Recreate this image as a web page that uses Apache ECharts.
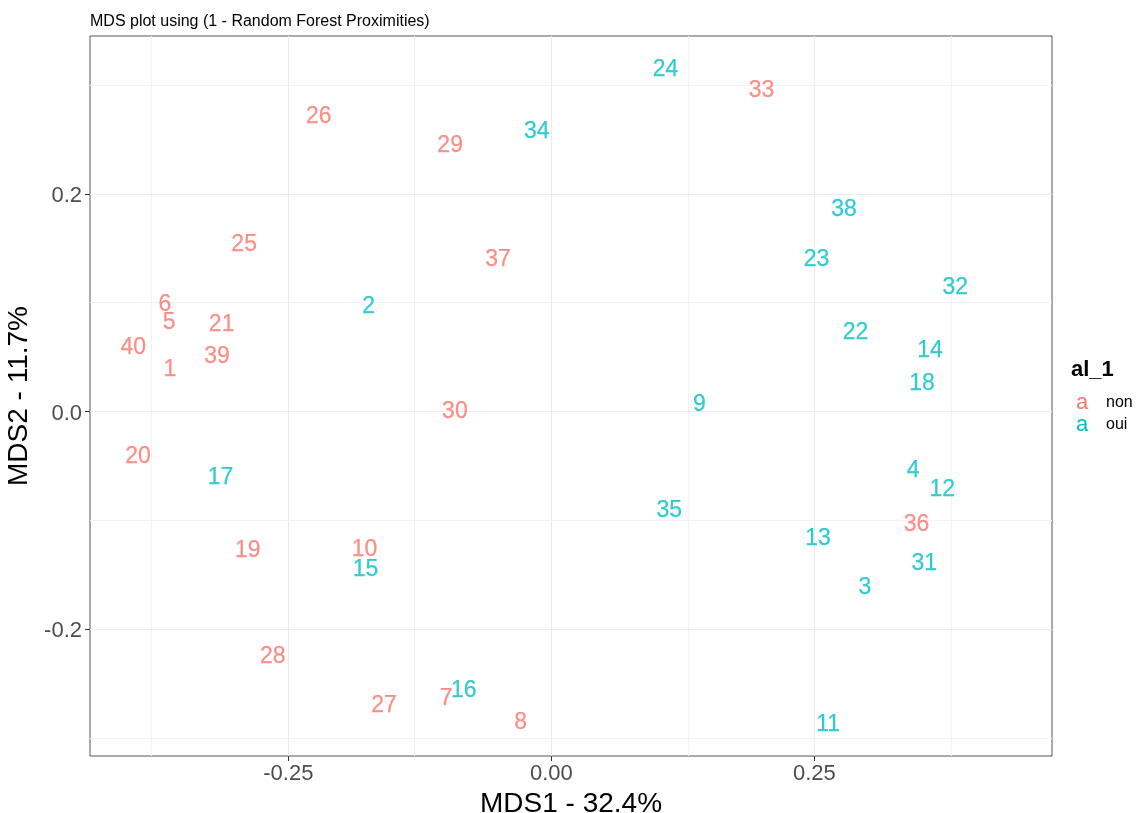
<!DOCTYPE html>
<html>
<head>
<meta charset="utf-8">
<script src="https://cdn.jsdelivr.net/npm/echarts@6/dist/echarts.min.js"></script>
<style>
html,body{margin:0;padding:0;background:#fff;}
#chart{width:1137px;height:813px;}
</style>
</head>
<body>
<div id="chart"></div>
<script>
// ---- data ----
const nonIds = [1, 5, 6, 7, 8, 10, 19, 20, 21, 25, 26, 27, 28, 29, 30, 33, 36, 37, 39, 40];
const nonX = [-0.3625, -0.3633, -0.3672, -0.1000, -0.0292, -0.1775, -0.2886, -0.3929, -0.3134, -0.2920, -0.2211, -0.1590, -0.2648, -0.0962, -0.0917, 0.1997, 0.3470, -0.0508, -0.3177, -0.3973];
const nonY = [0.0380, 0.0812, 0.0980, -0.2636, -0.2862, -0.1273, -0.1280, -0.0413, 0.0796, 0.1532, 0.2714, -0.2703, -0.2252, 0.2446, 0.0000, 0.2950, -0.1041, 0.1393, 0.0507, 0.0582];

const ouiIds = [2, 3, 4, 9, 11, 12, 13, 14, 15, 16, 17, 18, 22, 23, 24, 31, 32, 34, 35, 38];
const ouiX = [-0.1736, 0.2979, 0.3438, 0.1406, 0.2630, 0.3715, 0.2535, 0.3598, -0.1767, -0.0833, -0.3145, 0.3522, 0.2890, 0.2520, 0.1085, 0.3544, 0.3838, -0.0138, 0.1121, 0.2782];
const ouiY = [0.0961, -0.1617, -0.0543, 0.0063, -0.2877, -0.0719, -0.1168, 0.0559, -0.1455, -0.2563, -0.0613, 0.0253, 0.0725, 0.1399, 0.3138, -0.1402, 0.1138, 0.2576, -0.0912, 0.1858];

const groupNames = ['non', 'oui'];
const xTicks = [-0.25, 0, 0.25];
const yTicks = [-0.2, 0, 0.2];
const xMinorGrid = [-0.375, -0.125, 0.125, 0.375];
const yMinorGrid = [-0.3, -0.1, 0.1, 0.3];
const xRange = [-0.4385, 0.4758];
const yRange = [-0.3167, 0.3451];

// ---- styling ----
const FONT = '"Liberation Sans", Arial, sans-serif';
const COLORS = ['#F8766D', '#00BFC4'];

function toData(ids, xs, ys) {
  return ids.map((id, i) => [xs[i], ys[i], id]);
}

function textSeries(name, color, data) {
  return {
    name: name,
    type: 'scatter',
    data: data,
    symbol: 'circle',
    symbolSize: 1,
    itemStyle: { color: 'rgba(0,0,0,0)' },
    z: 10,
    zlevel: 1,
    label: {
      show: true,
      position: 'inside',
      offset: [0, 2],
      formatter: p => String(p.value[2]),
      color: color,
      textBorderColor: color,
      textBorderWidth: 0.25,
      fontSize: 23,
      fontFamily: FONT,
      align: 'center',
      verticalAlign: 'middle'
    },
    labelLayout: { hideOverlap: false },
    emphasis: { disabled: true },
    animation: false
  };
}

const gridLines = [];
xTicks.forEach(v => gridLines.push({ xAxis: v, lineStyle: { color: '#EBEBEB', width: 1.1, type: 'solid' } }));
xMinorGrid.forEach(v => gridLines.push({ xAxis: v, lineStyle: { color: '#F2F2F2', width: 1, type: 'solid' } }));
yTicks.forEach(v => gridLines.push({ yAxis: v, lineStyle: { color: '#EBEBEB', width: 1.1, type: 'solid' } }));
yMinorGrid.forEach(v => gridLines.push({ yAxis: v, lineStyle: { color: '#F2F2F2', width: 1, type: 'solid' } }));

const chart = echarts.init(document.getElementById('chart'), null, { renderer: 'canvas' });
const option = {
  backgroundColor: '#ffffff',
  animation: false,
  textStyle: { fontFamily: FONT },
  title: [
    {
      text: 'MDS plot using (1 - Random Forest Proximities)',
      left: 90, top: 14, padding: 0,
      textStyle: { fontSize: 16, fontWeight: 'normal', color: '#000', fontFamily: FONT }
    },
    {
      text: 'al_1',
      left: 1071, top: 359, padding: 0,
      textStyle: { fontSize: 22, fontWeight: 'bold', color: '#000', fontFamily: FONT }
    }
  ],
  legend: {
    data: groupNames,
    orient: 'vertical',
    left: 1071,
    top: 392,
    padding: 0,
    itemWidth: 0,
    itemHeight: 0,
    itemGap: 0,
    icon: 'rect',
    selectedMode: false,
    formatter: name => '{' + (name === 'non' ? 'kn' : 'ko') + '|a}{t|' + name + '}',
    textStyle: {
      fontFamily: FONT,
      rich: {
        kn: { color: COLORS[0], fontSize: 22, width: 30, lineHeight: 24, fontFamily: FONT },
        ko: { color: COLORS[1], fontSize: 22, width: 30, lineHeight: 24, fontFamily: FONT },
        t: { color: '#000', fontSize: 16, lineHeight: 24, fontFamily: FONT }
      }
    }
  },
  grid: {
    left: 90, top: 36, width: 962, height: 720,
    show: true, borderColor: '#555555', borderWidth: 1, backgroundColor: 'transparent',
    containLabel: false,
    outerBoundsMode: 'none'
  },
  xAxis: {
    type: 'value',
    min: xRange[0], max: xRange[1],
    name: 'MDS1 - 32.4%',
    nameLocation: 'middle',
    nameGap: 26,
    nameTextStyle: { fontSize: 28, color: '#000', fontFamily: FONT },
    axisLine: { show: false, onZero: false },
    splitLine: { show: false },
    axisTick: { show: true, customValues: xTicks, length: 5, lineStyle: { color: '#333333' } },
    axisLabel: {
      customValues: xTicks,
      formatter: v => v.toFixed(2),
      fontSize: 22, color: '#4D4D4D', margin: 7, fontFamily: FONT
    }
  },
  yAxis: {
    type: 'value',
    min: yRange[0], max: yRange[1],
    name: 'MDS2 - 11.7%',
    nameLocation: 'middle',
    nameGap: 42,
    nameTextStyle: { fontSize: 28, color: '#000', fontFamily: FONT },
    axisLine: { show: false, onZero: false },
    splitLine: { show: false },
    axisTick: { show: true, customValues: yTicks, length: 5, lineStyle: { color: '#333333' } },
    axisLabel: {
      customValues: yTicks,
      formatter: v => '{v|' + v.toFixed(1) + '}',
      rich: { v: { fontSize: 22, color: '#4D4D4D', fontFamily: FONT, padding: [4, 0, 0, 0] } },
      fontSize: 22, color: '#4D4D4D', margin: 8, fontFamily: FONT
    }
  },
  series: [
    {
      name: 'gridlines',
      type: 'scatter',
      data: [],
      z: 0,
      zlevel: 0,
      silent: true,
      markLine: {
        silent: true,
        z: 0,
        symbol: ['none', 'none'],
        label: { show: false },
        emphasis: { disabled: true },
        animation: false,
        data: gridLines
      }
    },
    textSeries(groupNames[0], COLORS[0], toData(nonIds, nonX, nonY)),
    textSeries(groupNames[1], COLORS[1], toData(ouiIds, ouiX, ouiY))
  ]
};
chart.setOption(option);
</script>
</body>
</html>
